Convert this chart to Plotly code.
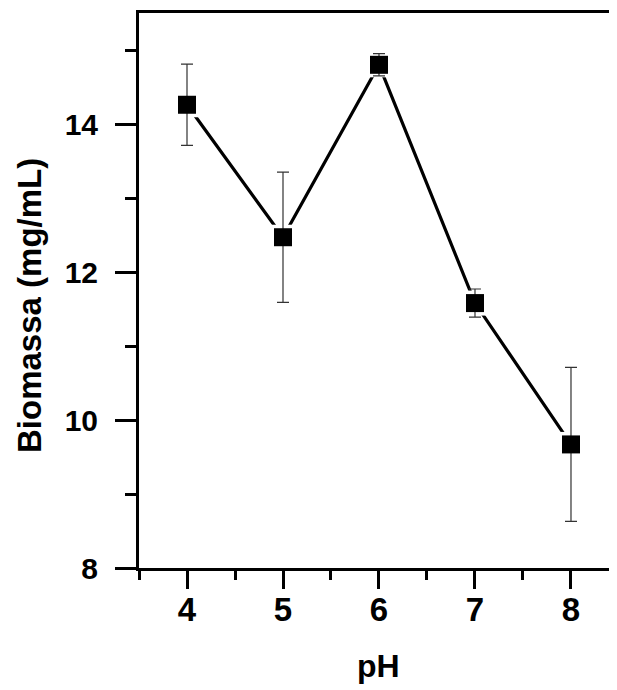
import plotly.graph_objects as go

ph = [4, 5, 6, 7, 8]
biomassa = [14.26, 12.47, 14.80, 11.58, 9.67]
erro = [0.55, 0.88, 0.15, 0.19, 1.04]

x_ticks = [4, 5, 6, 7, 8]
y_ticks = [8, 10, 12, 14]

FONT = "Liberation Sans, Arial, sans-serif"

# page body has an 8px margin; figure is sized so the plot area lands where the reference has it
fig = go.Figure()
fig.add_trace(go.Scatter(x=ph, y=biomassa, mode="lines",
                         line=dict(color="black", width=3.2), hoverinfo="skip"))
fig.add_trace(go.Scatter(x=ph, y=biomassa, mode="markers",
                         marker=dict(symbol="square", size=25, color="white",
                                     line=dict(width=0)), hoverinfo="skip"))
fig.add_trace(go.Scatter(x=ph, y=biomassa, mode="markers",
                         marker=dict(symbol="square", size=18, color="black",
                                     line=dict(width=0)),
                         error_y=dict(type="data", array=erro, visible=True,
                                      color="#333333", thickness=1.2, width=6)))

fig.update_layout(
    width=601, height=680,
    margin=dict(l=131, r=0, t=5, b=120),
    plot_bgcolor="white", paper_bgcolor="white",
    showlegend=False,
    font=dict(family=FONT, size=30, color="black"),
    xaxis=dict(range=[3.5, 8.396], tickvals=x_ticks, ticktext=["<b>%d</b>" % v for v in x_ticks],
               ticks="outside", ticklen=18, tickwidth=3, tickcolor="black",
               showline=True, linewidth=3, linecolor="black", mirror=True,
               showgrid=False, zeroline=False, ticklabelstandoff=-8,
               tickfont=dict(family=FONT, size=33, color="black"),
               minor=dict(dtick=0.5, tick0=3.5, ticks="outside", ticklen=9, tickwidth=3, tickcolor="black")),
    yaxis=dict(range=[8, 15.5], tickvals=y_ticks, ticktext=["<b>%d</b>" % v for v in y_ticks],
               ticks="outside", ticklen=21, tickwidth=3, tickcolor="black",
               showline=True, linewidth=3, linecolor="black", mirror=False,
               showgrid=False, zeroline=False, ticklabelstandoff=11,
               tickfont=dict(family=FONT, size=30, color="black"),
               minor=dict(dtick=1, tick0=9, ticks="outside", ticklen=11, tickwidth=3, tickcolor="black")),
    annotations=[
        dict(text="<b>pH</b>", xref="paper", yref="paper", x=(378-139)/470, y=-(666-568)/555,
             xanchor="center", yanchor="middle", showarrow=False,
             font=dict(family=FONT, size=32, color="black")),
        dict(text="<b>Biomassa (mg/mL)</b>", xref="paper", yref="paper", x=-(139-30)/470, y=(568-306)/555,
             xanchor="center", yanchor="middle", showarrow=False, textangle=-90,
             font=dict(family=FONT, size=33, color="black")),
    ],
)

fig.write_html("out.html")
